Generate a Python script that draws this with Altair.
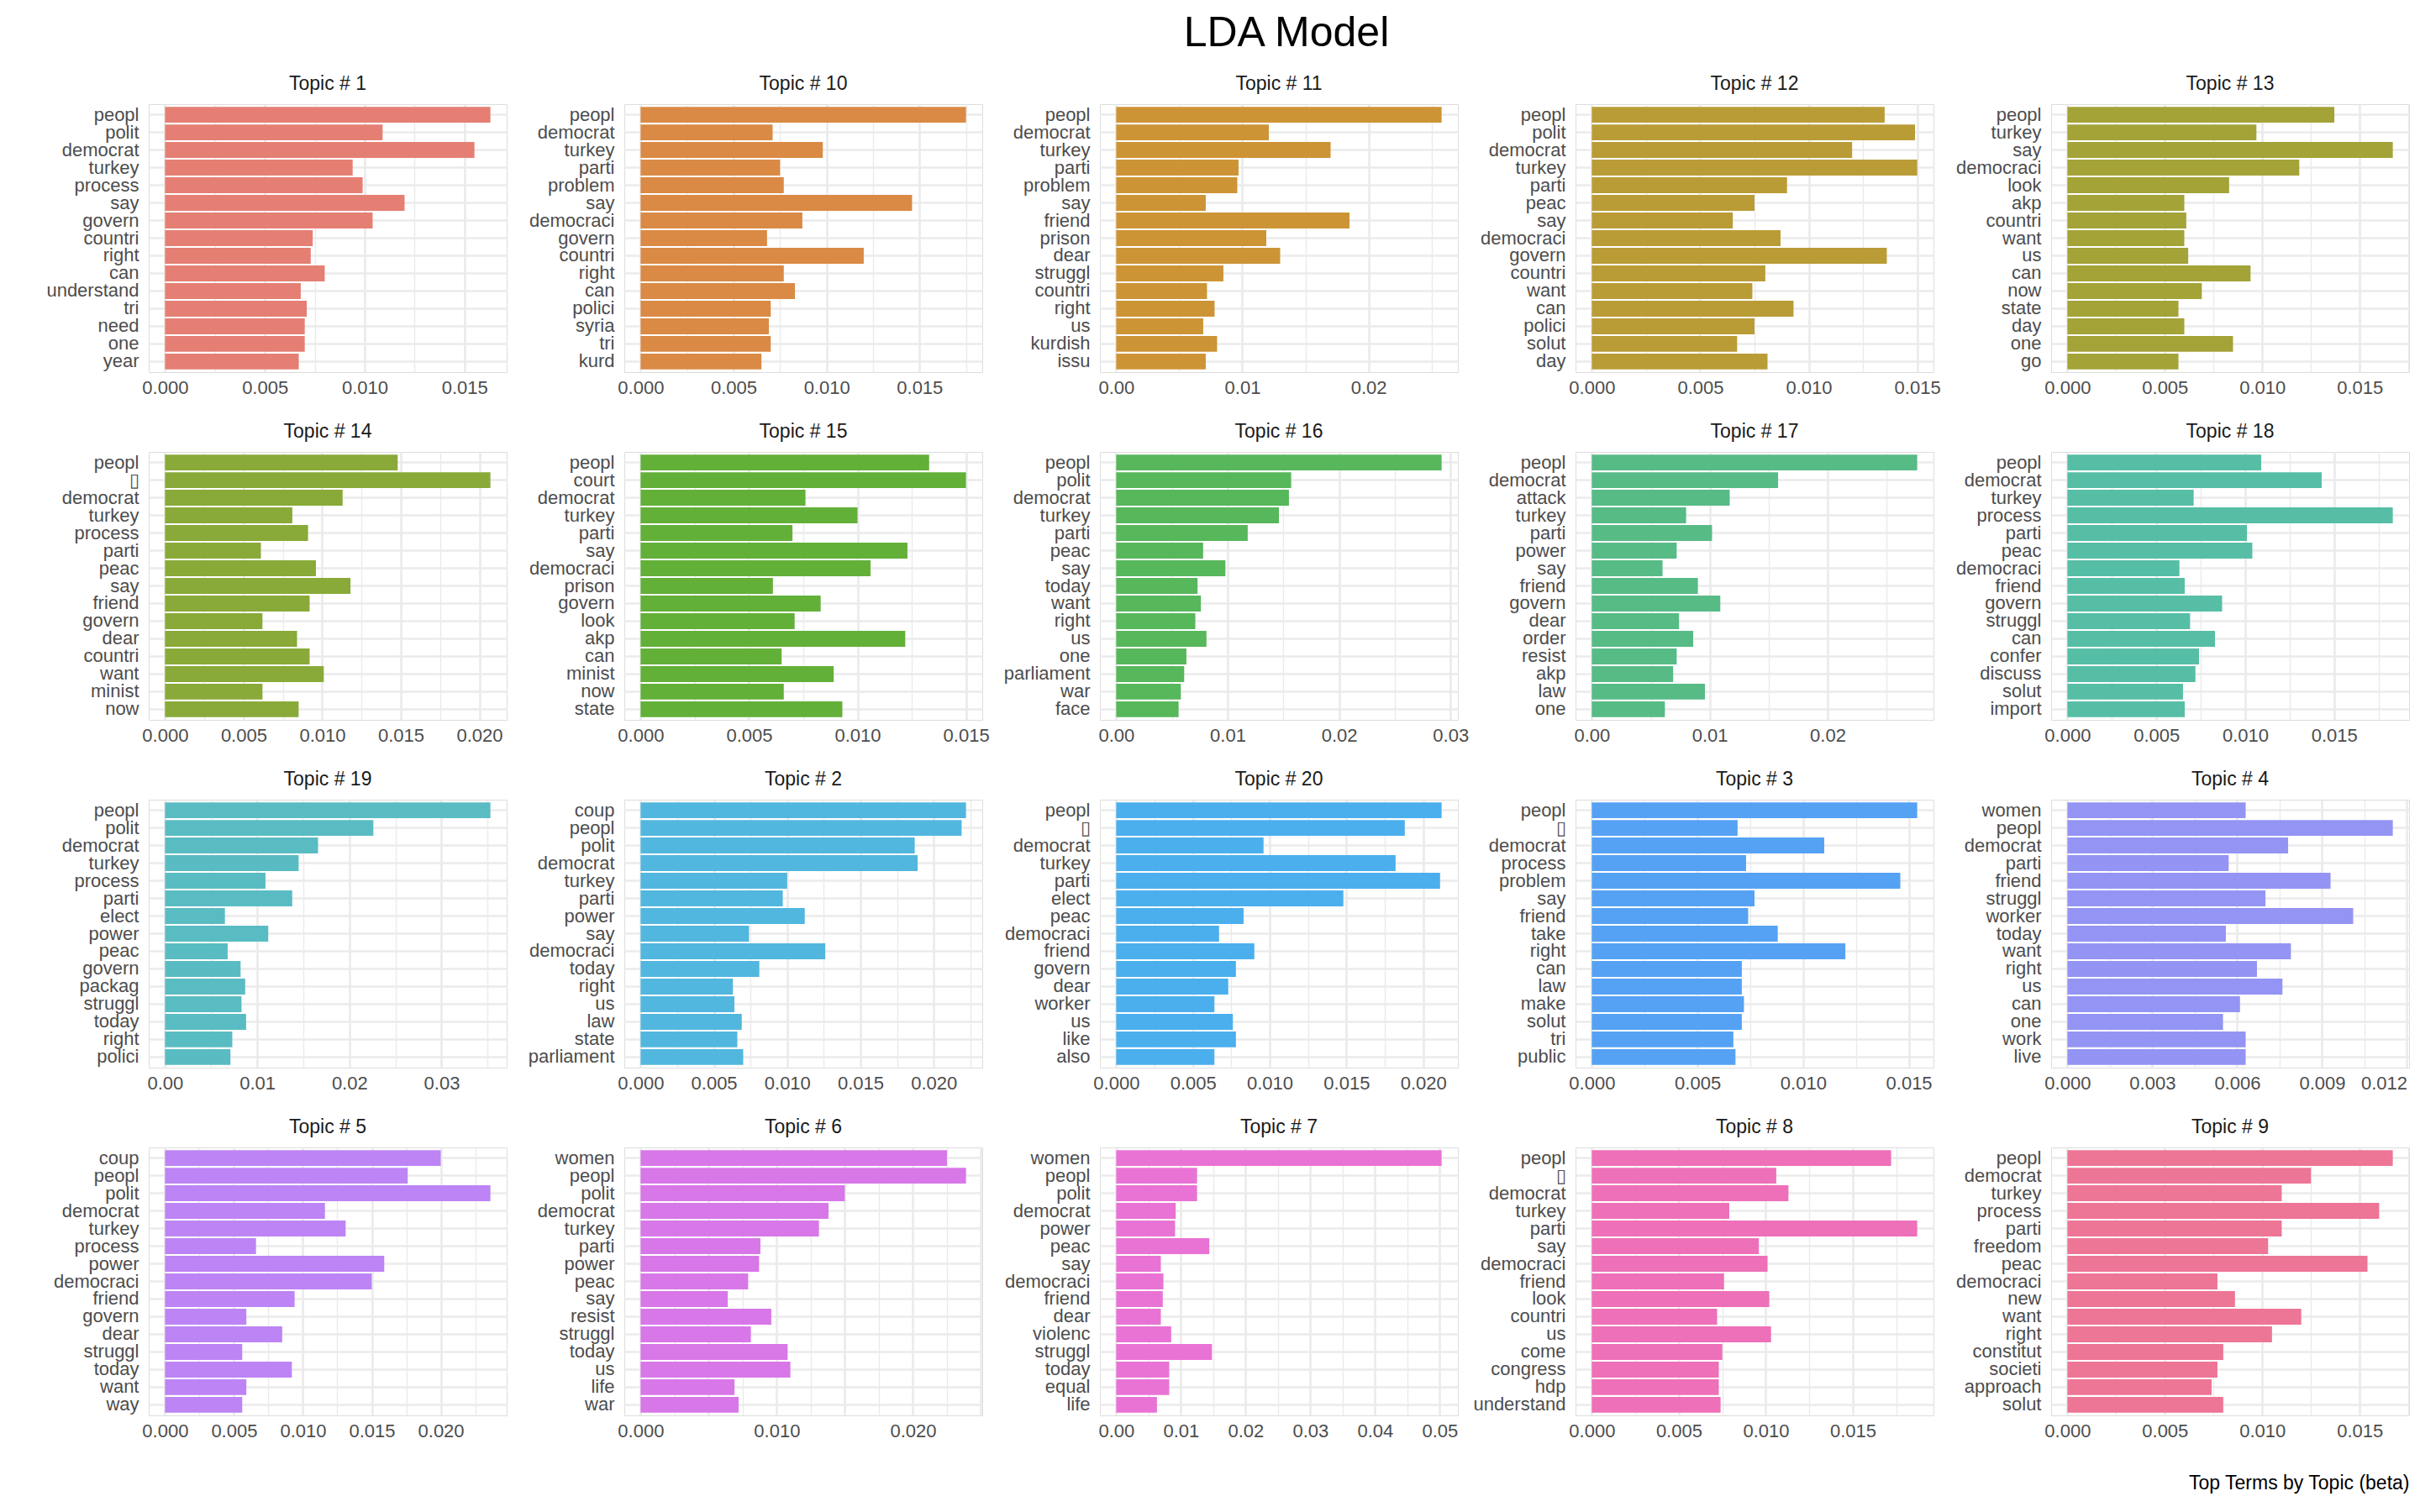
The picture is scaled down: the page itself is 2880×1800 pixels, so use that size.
import altair as alt
import pandas as pd

FONT = "Liberation Sans"

# top terms and beta per topic (panel order is alphabetical, as in the original facets)
t1_terms = ["peopl", "polit", "democrat", "turkey", "process", "say", "govern", "countri", "right", "can", "understand", "tri", "need", "one", "year"]
t1_beta = [0.0163, 0.0109, 0.0155, 0.0094, 0.0099, 0.0120, 0.0104, 0.0074, 0.0073, 0.0080, 0.0068, 0.0071, 0.0070, 0.0070, 0.0067]

t10_terms = ["peopl", "democrat", "turkey", "parti", "problem", "say", "democraci", "govern", "countri", "right", "can", "polici", "syria", "tri", "kurd"]
t10_beta = [0.0175, 0.0071, 0.0098, 0.0075, 0.0077, 0.0146, 0.0087, 0.0068, 0.0120, 0.0077, 0.0083, 0.0070, 0.0069, 0.0070, 0.0065]

t11_terms = ["peopl", "democrat", "turkey", "parti", "problem", "say", "friend", "prison", "dear", "struggl", "countri", "right", "us", "kurdish", "issu"]
t11_beta = [0.0258, 0.0121, 0.0170, 0.0097, 0.0096, 0.0071, 0.0185, 0.0119, 0.0130, 0.0085, 0.0072, 0.0078, 0.0069, 0.0080, 0.0071]

t12_terms = ["peopl", "polit", "democrat", "turkey", "parti", "peac", "say", "democraci", "govern", "countri", "want", "can", "polici", "solut", "day"]
t12_beta = [0.0135, 0.0149, 0.0120, 0.0150, 0.0090, 0.0075, 0.0065, 0.0087, 0.0136, 0.0080, 0.0074, 0.0093, 0.0075, 0.0067, 0.0081]

t13_terms = ["peopl", "turkey", "say", "democraci", "look", "akp", "countri", "want", "us", "can", "now", "state", "day", "one", "go"]
t13_beta = [0.0137, 0.0097, 0.0167, 0.0119, 0.0083, 0.0060, 0.0061, 0.0060, 0.0062, 0.0094, 0.0069, 0.0057, 0.0060, 0.0085, 0.0057]

t14_terms = ["peopl", "\u25af", "democrat", "turkey", "process", "parti", "peac", "say", "friend", "govern", "dear", "countri", "want", "minist", "now"]
t14_beta = [0.0148, 0.0207, 0.0113, 0.0081, 0.0091, 0.0061, 0.0096, 0.0118, 0.0092, 0.0062, 0.0084, 0.0092, 0.0101, 0.0062, 0.0085]

t15_terms = ["peopl", "court", "democrat", "turkey", "parti", "say", "democraci", "prison", "govern", "look", "akp", "can", "minist", "now", "state"]
t15_beta = [0.0133, 0.0150, 0.0076, 0.0100, 0.0070, 0.0123, 0.0106, 0.0061, 0.0083, 0.0071, 0.0122, 0.0065, 0.0089, 0.0066, 0.0093]

t16_terms = ["peopl", "polit", "democrat", "turkey", "parti", "peac", "say", "today", "want", "right", "us", "one", "parliament", "war", "face"]
t16_beta = [0.0292, 0.0157, 0.0155, 0.0146, 0.0118, 0.0078, 0.0098, 0.0073, 0.0076, 0.0071, 0.0081, 0.0063, 0.0061, 0.0058, 0.0056]

t17_terms = ["peopl", "democrat", "attack", "turkey", "parti", "power", "say", "friend", "govern", "dear", "order", "resist", "akp", "law", "one"]
t17_beta = [0.0276, 0.0158, 0.0117, 0.0080, 0.0102, 0.0072, 0.0060, 0.0090, 0.0109, 0.0074, 0.0086, 0.0072, 0.0069, 0.0096, 0.0062]

t18_terms = ["peopl", "democrat", "turkey", "process", "parti", "peac", "democraci", "friend", "govern", "struggl", "can", "confer", "discuss", "solut", "import"]
t18_beta = [0.0109, 0.0143, 0.0071, 0.0183, 0.0101, 0.0104, 0.0063, 0.0066, 0.0087, 0.0069, 0.0083, 0.0074, 0.0072, 0.0065, 0.0066]

t19_terms = ["peopl", "polit", "democrat", "turkey", "process", "parti", "elect", "power", "peac", "govern", "packag", "struggl", "today", "right", "polici"]
t19_beta = [0.0353, 0.0226, 0.0166, 0.0145, 0.0109, 0.0138, 0.0065, 0.0112, 0.0068, 0.0082, 0.0087, 0.0083, 0.0088, 0.0073, 0.0071]

t2_terms = ["coup", "peopl", "polit", "democrat", "turkey", "parti", "power", "say", "democraci", "today", "right", "us", "law", "state", "parliament"]
t2_beta = [0.0222, 0.0219, 0.0187, 0.0189, 0.0100, 0.0097, 0.0112, 0.0074, 0.0126, 0.0081, 0.0063, 0.0064, 0.0069, 0.0066, 0.0070]

t20_terms = ["peopl", "\u25af", "democrat", "turkey", "parti", "elect", "peac", "democraci", "friend", "govern", "dear", "worker", "us", "like", "also"]
t20_beta = [0.0212, 0.0188, 0.0096, 0.0182, 0.0211, 0.0148, 0.0083, 0.0067, 0.0090, 0.0078, 0.0073, 0.0064, 0.0076, 0.0078, 0.0064]

t3_terms = ["peopl", "\u25af", "democrat", "process", "problem", "say", "friend", "take", "right", "can", "law", "make", "solut", "tri", "public"]
t3_beta = [0.0154, 0.0069, 0.0110, 0.0073, 0.0146, 0.0077, 0.0074, 0.0088, 0.0120, 0.0071, 0.0071, 0.0072, 0.0071, 0.0067, 0.0068]

t4_terms = ["women", "peopl", "democrat", "parti", "friend", "struggl", "worker", "today", "want", "right", "us", "can", "one", "work", "live"]
t4_beta = [0.0063, 0.0115, 0.0078, 0.0057, 0.0093, 0.0070, 0.0101, 0.0056, 0.0079, 0.0067, 0.0076, 0.0061, 0.0055, 0.0063, 0.0063]

t5_terms = ["coup", "peopl", "polit", "democrat", "turkey", "process", "power", "democraci", "friend", "govern", "dear", "struggl", "today", "want", "way"]
t5_beta = [0.0200, 0.0176, 0.0236, 0.0116, 0.0131, 0.0066, 0.0159, 0.0150, 0.0094, 0.0059, 0.0085, 0.0056, 0.0092, 0.0059, 0.0056]

t6_terms = ["women", "peopl", "polit", "democrat", "turkey", "parti", "power", "peac", "say", "resist", "struggl", "today", "us", "life", "war"]
t6_beta = [0.0225, 0.0239, 0.0150, 0.0138, 0.0131, 0.0088, 0.0087, 0.0079, 0.0064, 0.0096, 0.0081, 0.0108, 0.0110, 0.0069, 0.0072]

t7_terms = ["women", "peopl", "polit", "democrat", "power", "peac", "say", "democraci", "friend", "dear", "violenc", "struggl", "today", "equal", "life"]
t7_beta = [0.0503, 0.0125, 0.0125, 0.0092, 0.0091, 0.0144, 0.0069, 0.0073, 0.0072, 0.0069, 0.0085, 0.0148, 0.0082, 0.0082, 0.0063]

t8_terms = ["peopl", "\u25af", "democrat", "turkey", "parti", "say", "democraci", "friend", "look", "countri", "us", "come", "congress", "hdp", "understand"]
t8_beta = [0.0172, 0.0106, 0.0113, 0.0079, 0.0187, 0.0096, 0.0101, 0.0076, 0.0102, 0.0072, 0.0103, 0.0075, 0.0073, 0.0073, 0.0074]

t9_terms = ["peopl", "democrat", "turkey", "process", "parti", "freedom", "peac", "democraci", "new", "want", "right", "constitut", "societi", "approach", "solut"]
t9_beta = [0.0167, 0.0125, 0.0110, 0.0160, 0.0110, 0.0103, 0.0154, 0.0077, 0.0086, 0.0120, 0.0105, 0.0080, 0.0077, 0.0074, 0.0080]

# x axis tick labels as shown under each panel
ticks_005_15 = [0.0, 0.005, 0.010, 0.015]
ticks_005_20 = [0.0, 0.005, 0.010, 0.015, 0.020]
ticks_005_25 = [0.0, 0.005, 0.010, 0.015, 0.020, 0.025]
ticks_01_2 = [0.0, 0.01, 0.02]
ticks_01_3 = [0.0, 0.01, 0.02, 0.03]
ticks_01_5 = [0.0, 0.01, 0.02, 0.03, 0.04, 0.05]
ticks_003_12 = [0.0, 0.003, 0.006, 0.009, 0.012]

topic_colors = [
    "#E57F73", "#DA8A45", "#CD9436", "#BA9C37", "#A3A338",
    "#89AA38", "#62B038", "#57B75B", "#57BB86", "#57BEA6",
    "#5ABCC3", "#52B7DE", "#4BAFEE", "#55A2F4", "#9494F5",
    "#BD84F5", "#D877E8", "#E873D5", "#EE70B8", "#ED7595",
]

panels = [
    ("1", t1_terms, t1_beta, ticks_005_15),
    ("10", t10_terms, t10_beta, ticks_005_15),
    ("11", t11_terms, t11_beta, ticks_01_2),
    ("12", t12_terms, t12_beta, ticks_005_15),
    ("13", t13_terms, t13_beta, ticks_005_15),
    ("14", t14_terms, t14_beta, ticks_005_20),
    ("15", t15_terms, t15_beta, ticks_005_15),
    ("16", t16_terms, t16_beta, ticks_01_3),
    ("17", t17_terms, t17_beta, ticks_01_2),
    ("18", t18_terms, t18_beta, ticks_005_15),
    ("19", t19_terms, t19_beta, ticks_01_3),
    ("2", t2_terms, t2_beta, ticks_005_20),
    ("20", t20_terms, t20_beta, ticks_005_20),
    ("3", t3_terms, t3_beta, ticks_005_15),
    ("4", t4_terms, t4_beta, ticks_003_12),
    ("5", t5_terms, t5_beta, ticks_005_20),
    ("6", t6_terms, t6_beta, ticks_005_25),
    ("7", t7_terms, t7_beta, ticks_01_5),
    ("8", t8_terms, t8_beta, ticks_005_15),
    ("9", t9_terms, t9_beta, ticks_005_15),
]

W, H = 426, 319
GRID = "#EBEBEB"
TEXT = "#4D4D4D"


def make_panel(tid, terms, beta, ticks, color):
    df = pd.DataFrame({"term": terms, "beta": beta})
    top = max(beta)
    # ggplot-like 5% expansion on both sides
    dom = [-0.05 * top, 1.05 * top]
    step = ticks[1] - ticks[0]
    minor = [t + step / 2 for t in ticks if dom[0] <= t + step / 2 <= dom[1]]
    fmt = ".2f" if step >= 0.01 else ".3f"
    xs = alt.Scale(domain=dom, nice=False, zero=False)

    # minor vertical grid lines only
    minor_grid = alt.Chart(df).mark_point(opacity=0).encode(
        x=alt.X("beta:Q", scale=xs, axis=alt.Axis(
            values=minor, orient="top", labels=False, ticks=False, domain=False,
            grid=True, gridColor=GRID, gridWidth=1.4, title=None)),
    )

    bars = alt.Chart(df).mark_bar(color=color).encode(
        x=alt.X("beta:Q", scale=xs, axis=alt.Axis(
            values=ticks, format=fmt, orient="bottom", title=None, grid=True,
            gridColor=GRID, gridWidth=2.7, domain=False, ticks=False, tickSize=0,
            labelFont=FONT, labelFontSize=22, labelColor=TEXT, labelPadding=8,
            labelFlush=4)),
        x2=alt.datum(0),
        y=alt.Y("term:N", sort=terms, title=None,
                scale=alt.Scale(paddingInner=0.1, paddingOuter=0.15),
                axis=alt.Axis(bandPosition=0.5, grid=True, gridColor=GRID, gridWidth=2.7,
                              domain=False, ticks=False, tickSize=0, labelPadding=12,
                              labelFont=FONT, labelFontSize=22, labelColor=TEXT,
                              labelLimit=0)),
        tooltip=["term", "beta"],
    )

    return alt.layer(minor_grid, bars).resolve_axis(x="independent").properties(
        width=W, height=H,
        title=alt.TitleParams(f"Topic # {tid}", font=FONT, fontSize=23, fontWeight="normal",
                              color="#1A1A1A", anchor="middle", frame="group", offset=12),
    )


charts = [make_panel(p[0], p[1], p[2], p[3], c) for p, c in zip(panels, topic_colors)]

grid = alt.concat(*charts, columns=5, spacing={"row": 95, "column": 140}).properties(
    bounds="flush",
    title=alt.TitleParams("LDA Model", font=FONT, fontSize=50, fontWeight="normal",
                          color="#000000", anchor="middle", dx=70, offset=24),
)

chart = alt.vconcat(grid).properties(
    title=alt.TitleParams("Top Terms by Topic (beta)", orient="bottom", anchor="end",
                          font=FONT, fontSize=23, fontWeight="normal",
                          color="#000000", offset=40),
    padding={"left": 46, "top": 6, "right": 2, "bottom": 0},
).configure_view(strokeWidth=0).configure(font=FONT)

chart.save("out.html", embed_options={"renderer": "svg", "actions": False})
